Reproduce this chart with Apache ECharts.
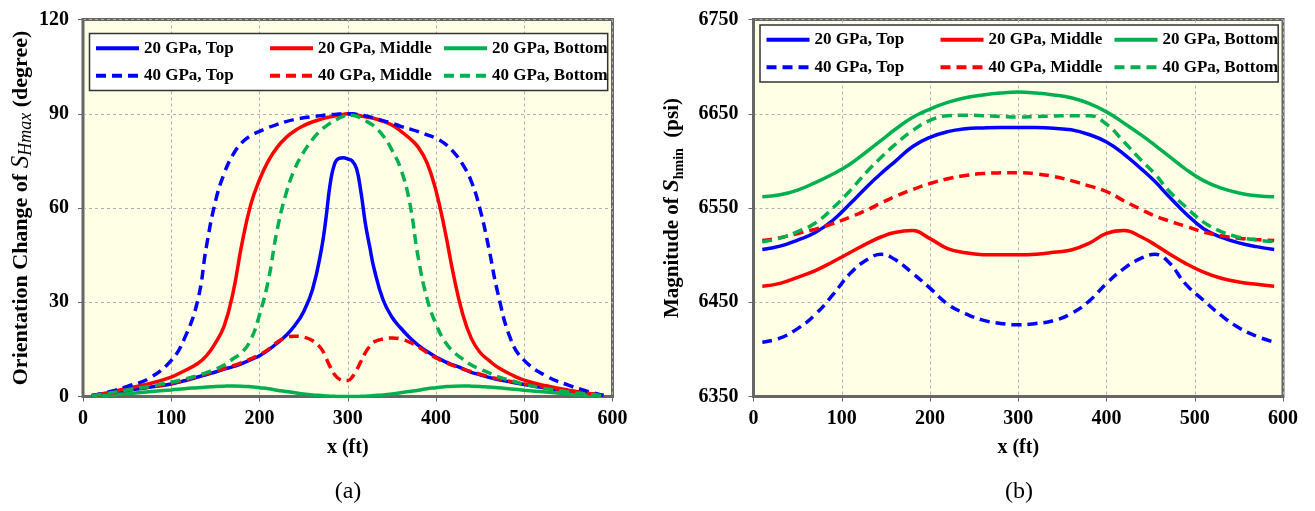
<!DOCTYPE html>
<html>
<head>
<meta charset="utf-8">
<script src="https://cdn.jsdelivr.net/npm/echarts@6/dist/echarts.min.js"></script>
<style>
html,body{margin:0;padding:0;background:#fff;}
#c{width:1315px;height:511px;}
</style>
</head>
<body>
<div id="c"></div>
<script>
// ---- Panel (a): orientation change of SHmax (degree) ----
const xsA = [10,30,50,75,100,115,130,140,150,160,170,180,190,200,210,220,230,240,250,260,270,275,280,285,290,295,300,305,310,315,320,325,330,340,350,360,370,380,390,400,410,420,430,440,450,460,470,485,500,525,550,570,590];
const a20Top = [0.2,0.9,1.9,2.9,4, 5,6.2,7,7.8,8.7, 9.5,10.5,11.7,13,14.8, 17,19.4,22.6,27,34, 46.6,56,67.5,74,75.8, 76,75.6,75,72.5,65, 55,47.5,40.5,30.8,25.3, 21.8,18.8,16.3,14.3,12.6, 11.1,10,8.9,7.7,6.9, 6.1,5.4,4.6,3.8,2.7, 1.7,1,0.2];
const a20Mid = [0.3,1.3,2.6,4.1,6.2, 8.2,10.5,13,17,22.5, 33,48.5,61,69,75, 79.3,82.4,84.6,86.2,87.4, 88.3,88.7,89,89.3,89.6, 89.8,90,89.8,89.6,89.3, 89,88.8,88.5,87.6,86.4, 84.5,82.2,79.3,74.3,65.5, 53,38.5,26.5,18.5,14, 11.5,9.3,7,5.2,3.4, 2,1.1,0.3];
const a20Bot = [0,0.4,0.9,1.5,2.1, 2.5,2.8,3,3.2,3.3, 3.35,3.3,3.1,2.8,2.5, 2,1.6,1.2,0.8,0.5, 0.3,0.2,0.1,0.05,0, 0,0,0,0,0.05, 0.1,0.2,0.3,0.5,0.8, 1.2,1.6,2,2.5,2.8, 3.1,3.3,3.35,3.3,3.2, 3,2.8,2.4,2,1.4, 0.8,0.4,0];
const a40Top = [0.3,1.5,3.2,5.8,11.5, 18.5,30.6,48,62,71, 77,80.8,83,84.4,85.6, 86.6,87.5,88.2,88.7,89.1, 89.4,89.6,89.7,89.8,89.9, 90,90,90,89.8,89.6, 89.3,89,88.6,87.8,87, 86,85.2,84.3,83.3,82.2, 80.5,77.8,74,68.5,59.5, 47,33,18,11.5,6.5, 3.6,1.8,0.3];
const a40Mid = [0.2,1,2,3,4.2, 5.2,6.4,7.2,8,8.9, 9.8,10.8,12,13.3,15, 17.3,18.8,19.2,18.9,17.8, 15.2,12.5,9.5,7,5.6, 5.1,5.1,6.2,8.4,11.2, 14,16,17.4,18.3,18.6, 18.3,17.3,15.8,13.9,12.3, 10.9,9.8,8.8,7.9,7.1, 6.3,5.6,4.8,4,2.9, 1.8,1.1,0.2];
const a40Bot = [0.2,1.1,2.1,3.2,4.6, 5.5,6.7,7.6,8.7,10, 12,14,18,26,37, 53,64.5,72.5,77.8,81.8, 84.9,86,87,87.8,88.6, 89.2,89.7,89.5,89.2,88.6, 87.8,87,86,83,78.5, 72.5,62,44,31,23, 17.5,14.2,12,10,8.7, 7.5,6.3,5.1,3.9,2.5, 1.4,0.8,0.2];

// ---- Panel (b): magnitude of Shmin (psi) ----
const xsB = [10,30,50,70,90,110,130,145,160,180,200,220,240,260,280,300,320,340,360,380,400,420,440,455,470,490,510,530,550,570,590];
const b20Top = [6506,6509.5,6516,6524,6537,6555,6574,6587,6599,6615,6625,6631,6634,6635,6635.5,6635.5,6635.3,6634.5,6633,6628,6620,6607,6591,6578,6563,6544,6528,6519,6513,6509,6506];
const b20Mid = [6467,6470,6476.5,6483.5,6493,6503,6513,6519.5,6524,6526,6517.5,6507,6502.5,6500.5,6500.3,6500.3,6501,6503,6505.5,6512.5,6523,6526,6519,6511,6502,6491,6482,6475.5,6471.5,6469,6467];
const b20Bot = [6562,6564,6569,6577,6586,6597,6611,6622,6633,6646,6655,6662,6667,6670,6672,6673,6672,6670,6667,6661,6652,6640,6627,6616.5,6605.5,6591,6579,6571,6566,6563,6562];
const b40Top = [6407.5,6412,6422,6437,6458,6481,6496,6500.8,6495.5,6481,6465,6448,6438,6431,6427.5,6426,6427.5,6430.5,6438,6451,6470,6486,6497,6500.8,6493,6469,6452,6436,6423,6414,6407.5];
const b40Mid = [6515.5,6518.5,6523,6527.5,6533.5,6540.5,6548.5,6555.5,6562,6569.5,6576,6581,6584.5,6586.5,6587.3,6587.5,6586.3,6583.5,6579,6573.5,6567.5,6557.5,6548,6541.5,6536.5,6530.5,6524.5,6520.5,6518,6516.5,6515.5];
const b40Bot = [6514,6518,6525,6534,6550,6569,6590,6604,6617,6632,6643,6648,6648.5,6648,6647,6646.5,6647,6647.5,6648,6648,6639,6620,6600,6586,6569,6551,6535,6525,6519,6516,6514.5];

const names = ['20 GPa, Top','20 GPa, Middle','20 GPa, Bottom','40 GPa, Top','40 GPa, Middle','40 GPa, Bottom'];
const xTicksA = [0,600,100];
const yTicksA = [0,120,30];
const yTicksB = [6350,6750,100];

const FF = 'Liberation Serif';
const COL = {blue:'#0000FF', red:'#FF0000', green:'#00B050'};
const DASH = [10,6];

function mk(name, xs, ys, color, dashed, gi, z) {
  return {
    name, type:'line', xAxisIndex:gi, yAxisIndex:gi,
    data: xs.map((x,i)=>[x, ys[i]]),
    showSymbol:false, symbol:'none', smooth:0.45,
    lineStyle:{color, width:3.5, type: dashed ? DASH : 'solid'},
    itemStyle:{color}, z: z, animation:false
  };
}

function legendFor(left, top) {
  return {
    left, top, width: 520, orient:'horizontal', itemGap:0, itemWidth:43, itemHeight:14,
    padding:[1,0,1,4.5], backgroundColor:'#fff', borderColor:'#333', borderWidth:1.5,
    selectedMode:false,
    itemStyle:{opacity:0},
    lineStyle:{width:4},
    textStyle:{fontFamily:FF, fontWeight:'bold', fontSize:17, color:'#000', lineHeight:27.5, width:124},
    data: names.map((n,i)=> (i%3===2) ? {name:n, textStyle:{width:110}} : {name:n})
  };
}

function xAx(gi) {
  return {
    gridIndex:gi, type:'value', min:xTicksA[0], max:xTicksA[1], interval:xTicksA[2],
    name:'x (ft)', nameLocation:'middle', nameGap:41,
    nameTextStyle:{fontFamily:FF, fontWeight:'bold', fontSize:20, color:'#000'},
    axisLine:{show:true, onZero:false, lineStyle:{color:'#666', width:2}},
    axisTick:{show:true, length:5, lineStyle:{color:'#666', width:1}},
    axisLabel:{fontFamily:FF, fontWeight:'bold', fontSize:20, color:'#000', margin:12},
    splitLine:{show:true, lineStyle:{color:'#b0b0b0', type:[3,3], width:1}}
  };
}

const richBase = {fontFamily:FF, color:'#000', lineHeight:28};
const option = {
  animation:false,
  backgroundColor:'#fff',
  grid:[
    {left:83, top:19.5, width:529.5, height:377, show:true, backgroundColor:'#FFFFE5', borderColor:'#666', borderWidth:3},
    {left:753.5, top:19.5, width:529.5, height:377, show:true, backgroundColor:'#FFFFE5', borderColor:'#666', borderWidth:3}
  ],
  legend:[legendFor(89.5, 33.5), legendFor(760, 25)],
  xAxis:[xAx(0), xAx(1)],
  yAxis:[
    {
      gridIndex:0, type:'value', min:yTicksA[0], max:yTicksA[1], interval:yTicksA[2],
      name:'{n|Orientation Change of }{s|S}{sub|Hmax}{n| (degree)}',
      nameLocation:'middle', nameRotate:90, nameGap:37,
      nameTextStyle:{rich:{
        n:Object.assign({}, richBase, {fontWeight:'bold', fontSize:22, verticalAlign:'middle'}),
        s:Object.assign({}, richBase, {fontStyle:'italic', fontSize:25, verticalAlign:'middle'}),
        sub:Object.assign({}, richBase, {fontStyle:'italic', fontSize:18, verticalAlign:'bottom'})
      }},
      axisLine:{show:true, lineStyle:{color:'#666', width:2}},
      axisTick:{show:true, length:5, lineStyle:{color:'#666', width:1}},
      axisLabel:{fontFamily:FF, fontWeight:'bold', fontSize:20, color:'#000', margin:14},
      splitLine:{show:true, lineStyle:{color:'#b0b0b0', type:[3,3], width:1}}
    },
    {
      gridIndex:1, type:'value', min:yTicksB[0], max:yTicksB[1], interval:yTicksB[2],
      name:'{n|Magnitude of }{s|S}{sub|hmin}{n|  (psi)}',
      nameLocation:'middle', nameRotate:90, nameGap:67,
      nameTextStyle:{rich:{
        n:Object.assign({}, richBase, {fontWeight:'bold', fontSize:21, verticalAlign:'middle'}),
        s:Object.assign({}, richBase, {fontStyle:'italic', fontWeight:'bold', fontSize:23, verticalAlign:'middle'}),
        sub:Object.assign({}, richBase, {fontWeight:'bold', fontSize:14, verticalAlign:'bottom'})
      }},
      axisLine:{show:true, lineStyle:{color:'#666', width:2}},
      axisTick:{show:true, length:5, lineStyle:{color:'#666', width:1}},
      axisLabel:{fontFamily:FF, fontWeight:'bold', fontSize:20, color:'#000', margin:15, formatter:(v)=>String(v)},
      splitLine:{show:true, lineStyle:{color:'#b0b0b0', type:[3,3], width:1}}
    }
  ],
  graphic:[
    {type:'text', x:348, y:492, style:{text:'(a)', fontFamily:FF, fontSize:24, fill:'#000', align:'center', verticalAlign:'middle'}},
    {type:'text', x:1019, y:492, style:{text:'(b)', fontFamily:FF, fontSize:24, fill:'#000', align:'center', verticalAlign:'middle'}}
  ],
  series:[
    mk(names[0], xsA, a20Top, COL.blue, false, 0, 3),
    mk(names[1], xsA, a20Mid, COL.red, false, 0, 3),
    mk(names[2], xsA, a20Bot, COL.green, false, 0, 3),
    mk(names[3], xsA, a40Top, COL.blue, true, 0, 4),
    mk(names[4], xsA, a40Mid, COL.red, true, 0, 4),
    mk(names[5], xsA, a40Bot, COL.green, true, 0, 4),
    mk(names[0], xsB, b20Top, COL.blue, false, 1, 3),
    mk(names[1], xsB, b20Mid, COL.red, false, 1, 3),
    mk(names[2], xsB, b20Bot, COL.green, false, 1, 3),
    mk(names[3], xsB, b40Top, COL.blue, true, 1, 4),
    mk(names[4], xsB, b40Mid, COL.red, true, 1, 4),
    mk(names[5], xsB, b40Bot, COL.green, true, 1, 4)
  ]
};
const chart = echarts.init(document.getElementById('c'), null, {renderer:'canvas'});
chart.setOption(option);
</script>
</body>
</html>
